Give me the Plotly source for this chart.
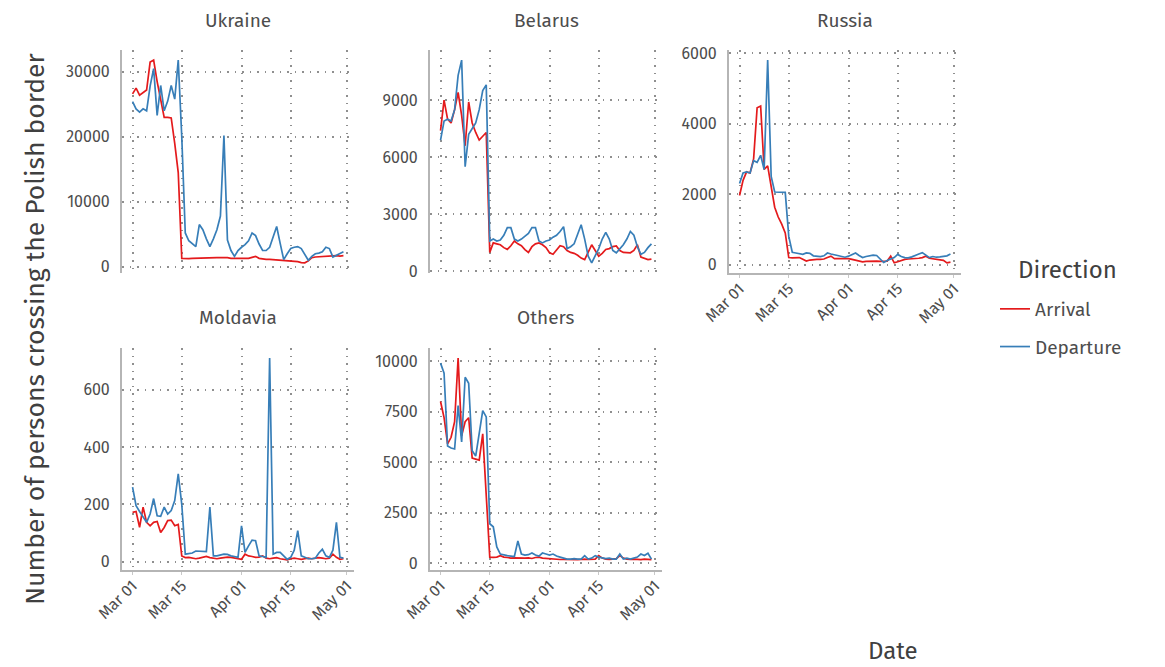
import pandas as pd
import plotly.graph_objects as go

dates = pd.date_range("2022-03-01", periods=61, freq="D")

panels = ["Ukraine", "Belarus", "Russia", "Moldavia", "Others"]
directions = ["Arrival", "Departure"]
colors = {"Arrival": "#E41A1C", "Departure": "#377EB8"}

ua_arr = [26600, 27500, 26400, 26800, 27200, 31500, 31800, 28500, 25500, 23000,
          23000, 22900, 19000, 14500, 1300,
          1250, 1250, 1300, 1300, 1300, 1320, 1350, 1350, 1380, 1400,
          1420, 1450, 1400, 1300, 1300, 1300, 1250, 1250, 1300, 1450,
          1600, 1300, 1200, 1150, 1150, 1100, 1100, 1050, 1000, 1000,
          950, 900, 800, 650, 600, 900, 1400, 1500, 1550, 1600,
          1600, 1650, 1650, 1700, 1650, 1700]
ua_dep = [25400, 24300, 23800, 24300, 24000, 27800, 30500, 23300, 27900, 24000,
          25500, 27900, 25800, 31800, 20000, 5200, 4000, 3500, 3100, 6500,
          5700, 4300, 3100, 4300, 5700, 7800, 20200, 4100, 2500, 1600,
          2500, 3000, 3400, 4000, 5200, 4800, 3500, 2500, 2500, 3000,
          4500, 6200, 3600, 1100, 2000, 2800, 3000, 3100, 2800, 1800,
          1000, 1600, 2000, 2100, 2300, 3000, 2800, 1500, 1800, 2000, 2300]

by_arr = [7400, 9000, 8000, 7800, 8500, 9400, 8200, 6600, 8900, 7800,
          7300, 6900, 7100, 7300,
          1000, 1500, 1450, 1400, 1250, 1160, 1350, 1600, 1450, 1350,
          1150, 1000, 1300, 1450, 1500, 1400, 1250, 980, 900, 1100,
          1350, 1300, 1100, 1000, 950, 850, 700, 620, 1000, 1400,
          1100, 800, 950, 1150, 1200, 1300, 1340, 1100, 1000, 980,
          980, 1100, 1400, 750, 680, 620, 650]
by_dep = [6900, 7900, 8000, 7900, 8500, 10300, 11100, 5500, 7200, 7500,
          7800, 8500, 9500, 9800,
          1600, 1700, 1600, 1650, 1900, 2300, 2300, 1700, 1600, 1700,
          1850, 2000, 2300, 2300, 1600, 1500, 1600, 1650, 1800, 1900,
          2100, 2350, 1200, 1300, 1450, 1900, 2450, 1700, 800, 450,
          850, 1200, 1700, 2050, 1700, 1100, 980, 1200, 1400, 1700,
          2100, 1900, 1300, 900, 1000, 1250, 1450]

ru_arr = [1960, 2390, 2630, 2600, 3000, 4450, 4500, 2700, 2800, 2200,
          1630, 1350, 1150, 900, 200,
          190, 200, 200, 150, 100, 130, 150, 150, 150, 160,
          200, 240, 170, 170, 180, 190, 170, 150, 120, 100,
          80, 90, 100, 110, 100, 90, 90, 100, 240, 50,
          80, 120, 150, 160, 160, 170, 180, 200, 240, 180,
          160, 140, 130, 120, 50, 70]
ru_dep = [2300, 2600, 2630, 2600, 2950, 2900, 3100, 2700, 5800, 2500,
          2060, 2050, 2050, 2050, 800,
          350, 330, 300, 290, 330, 320, 250, 240, 230, 250,
          330, 300, 280, 260, 230, 210, 240, 280, 330, 260,
          200, 230, 250, 270, 260, 150, 60, 120, 150, 200,
          290, 230, 200, 190, 220, 250, 300, 340, 260, 200,
          230, 210, 220, 230, 250, 300]

md_arr = [172, 175, 120, 190, 137, 125, 137, 140, 102, 119,
          143, 145, 125, 130, 20,
          14, 15, 12, 10, 12, 15, 18, 14, 12, 10,
          12, 14, 16, 15, 12, 10, 8, 26, 20, 18,
          15, 16, 20, 12, 10, 12, 14, 10, 8, 6,
          10, 12, 10, 8, 10, 12, 10, 12, 14, 12,
          10, 12, 26, 15, 8, 10]
md_dep = [260, 195, 175, 155, 137, 166, 220, 160, 158, 190,
          166, 178, 213, 306, 200, 26, 28, 30, 37, 36,
          35, 35, 190, 20, 20, 22, 26, 25, 20, 18,
          15, 125, 32, 55, 75, 73, 20, 18, 15, 710,
          26, 32, 32, 20, 8, 15, 40, 108, 20, 15,
          10, 10, 12, 30, 43, 20, 15, 40, 137, 15, 12]

ot_arr = [8000, 7200, 5900, 6230, 7000, 10150, 6300, 7000, 7200, 5200,
          5150, 5100, 6400, 3000, 300,
          290, 300, 370, 300, 280, 250, 260, 250, 270, 250,
          260, 230, 280, 300, 250, 230, 220, 210, 200, 180,
          180, 170, 160, 160, 170, 180, 200, 180, 190, 200,
          370, 250, 200, 180, 200, 220, 370, 250, 200, 180,
          200, 180, 170, 200, 170, 170]
ot_dep = [9900, 9400, 5800, 5700, 5650, 7800, 6000, 9200, 8900, 5560,
          5300, 6500, 7550, 7240, 1950, 1800, 800, 450, 400, 370,
          350, 330, 1100, 450, 400, 420, 500, 400, 350, 500,
          450, 400, 450, 350, 300, 250, 200, 200, 220, 200,
          200, 370, 200, 250, 370, 300, 250, 220, 250, 200,
          200, 450, 200, 250, 200, 250, 300, 450, 380, 490, 200]

series = {
    "Ukraine": (ua_arr, ua_dep),
    "Belarus": (by_arr, by_dep),
    "Russia": (ru_arr, ru_dep),
    "Moldavia": (md_arr, md_dep),
    "Others": (ot_arr, ot_dep),
}

y_ticks = {
    "Ukraine": [0, 10000, 20000, 30000],
    "Belarus": [0, 3000, 6000, 9000],
    "Russia": [0, 2000, 4000, 6000],
    "Moldavia": [0, 200, 400, 600],
    "Others": [0, 2500, 5000, 7500, 10000],
}
x_ticks = ["2022-03-01", "2022-03-15", "2022-04-01", "2022-04-15", "2022-05-01"]
x_tick_labels = ["Mar 01", "Mar 15", "Apr 01", "Apr 15", "May 01"]

W, H = 1165, 667
# panel geometry in pixels (left, right, top, bottom)
geom = {
    "Ukraine": (122, 354, 50, 273),
    "Belarus": (430, 662, 50, 273),
    "Russia": (729, 961, 50, 273),
    "Moldavia": (122, 354, 348, 570),
    "Others": (430, 662, 348, 570),
}
show_x = {"Ukraine": False, "Belarus": False, "Russia": True, "Moldavia": True, "Others": True}

FONT = "Fira Sans, Open Sans, Noto Sans, sans-serif"
TICK_FONT = dict(family=FONT, size=16, color="#4d4d4d")
GRID = dict(showgrid=True, gridcolor="#8f8f8f", gridwidth=1.5, griddash="1.5px,6px")

fig = go.Figure()

for i, name in enumerate(panels, start=1):
    arr, dep = series[name]
    sfx = "" if i == 1 else str(i)
    for d, vals in zip(directions, (arr, dep)):
        fig.add_trace(go.Scatter(
            x=dates, y=vals, mode="lines", name=d,
            line=dict(color=colors[d], width=1.7),
            xaxis="x" + sfx, yaxis="y" + sfx,
            legendgroup=d, showlegend=(i == 1),
        ))
    allv = arr + dep
    lo, hi = min(allv), max(allv)
    pad = 0.05 * (hi - lo)
    l, r, t, b = geom[name]
    fig.layout["xaxis" + sfx] = dict(
        domain=[l / W, r / W], anchor="y" + sfx, automargin=False,
        range=["2022-02-26", "2022-05-03"], type="date",
        tickvals=x_ticks, ticktext=x_tick_labels, tickangle=-45,
        showticklabels=show_x[name], ticklabelstandoff=-5,
        showline=show_x[name], linecolor="#b5b5b5", linewidth=2,
        ticks="outside" if show_x[name] else "", ticklen=3, tickcolor="#c8c8c8",
        tickfont=TICK_FONT, zeroline=False, **GRID,
    )
    fig.layout["yaxis" + sfx] = dict(
        domain=[1 - b / H, 1 - t / H], anchor="x" + sfx, automargin=False,
        range=[lo - pad, hi + pad],
        tickvals=y_ticks[name], ticktext=[str(v) for v in y_ticks[name]],
        showline=True, linecolor="#b5b5b5", linewidth=2,
        ticks="", ticklabelstandoff=7,
        tickfont=TICK_FONT, zeroline=False, **GRID,
    )
    fig.add_annotation(
        text=name, x=(l + r) / 2 / W, y=1 - (t - 30) / H,
        xref="paper", yref="paper", xanchor="center", yanchor="middle",
        showarrow=False, font=dict(family=FONT, size=19, color="#4d4d4d"),
    )

fig.add_annotation(
    text="Number of persons crossing the Polish border",
    x=35 / W, y=1 - 329 / H, xref="paper", yref="paper",
    textangle=-90, showarrow=False, xanchor="center", yanchor="middle",
    font=dict(family=FONT, size=26.5, color="#404040"),
)
fig.add_annotation(
    text="Date", x=893 / W, y=1 - 651 / H, xref="paper", yref="paper",
    showarrow=False, xanchor="center", yanchor="middle",
    font=dict(family=FONT, size=24, color="#404040"),
)
# legend title
fig.add_annotation(
    text="Direction", x=1067 / W, y=1 - 270 / H, xref="paper", yref="paper",
    showarrow=False, xanchor="center", yanchor="middle",
    font=dict(family=FONT, size=24, color="#404040"),
)

fig.update_layout(
    width=W, height=H, autosize=False,
    margin=dict(l=0, r=0, t=0, b=0, pad=0, autoexpand=False),
    paper_bgcolor="white", plot_bgcolor="white",
    font=dict(family=FONT, color="#4d4d4d"),
    legend=dict(
        x=995 / W, y=1 - 290 / H, xanchor="left", yanchor="top",
        font=dict(family=FONT, size=19, color="#4d4d4d"),
        tracegroupgap=10, itemwidth=30, bgcolor="rgba(0,0,0,0)",
    ),
    hovermode=False,
)

fig.write_html("out.html", config={"displayModeBar": False},
               post_script="document.body.style.margin='0';")
